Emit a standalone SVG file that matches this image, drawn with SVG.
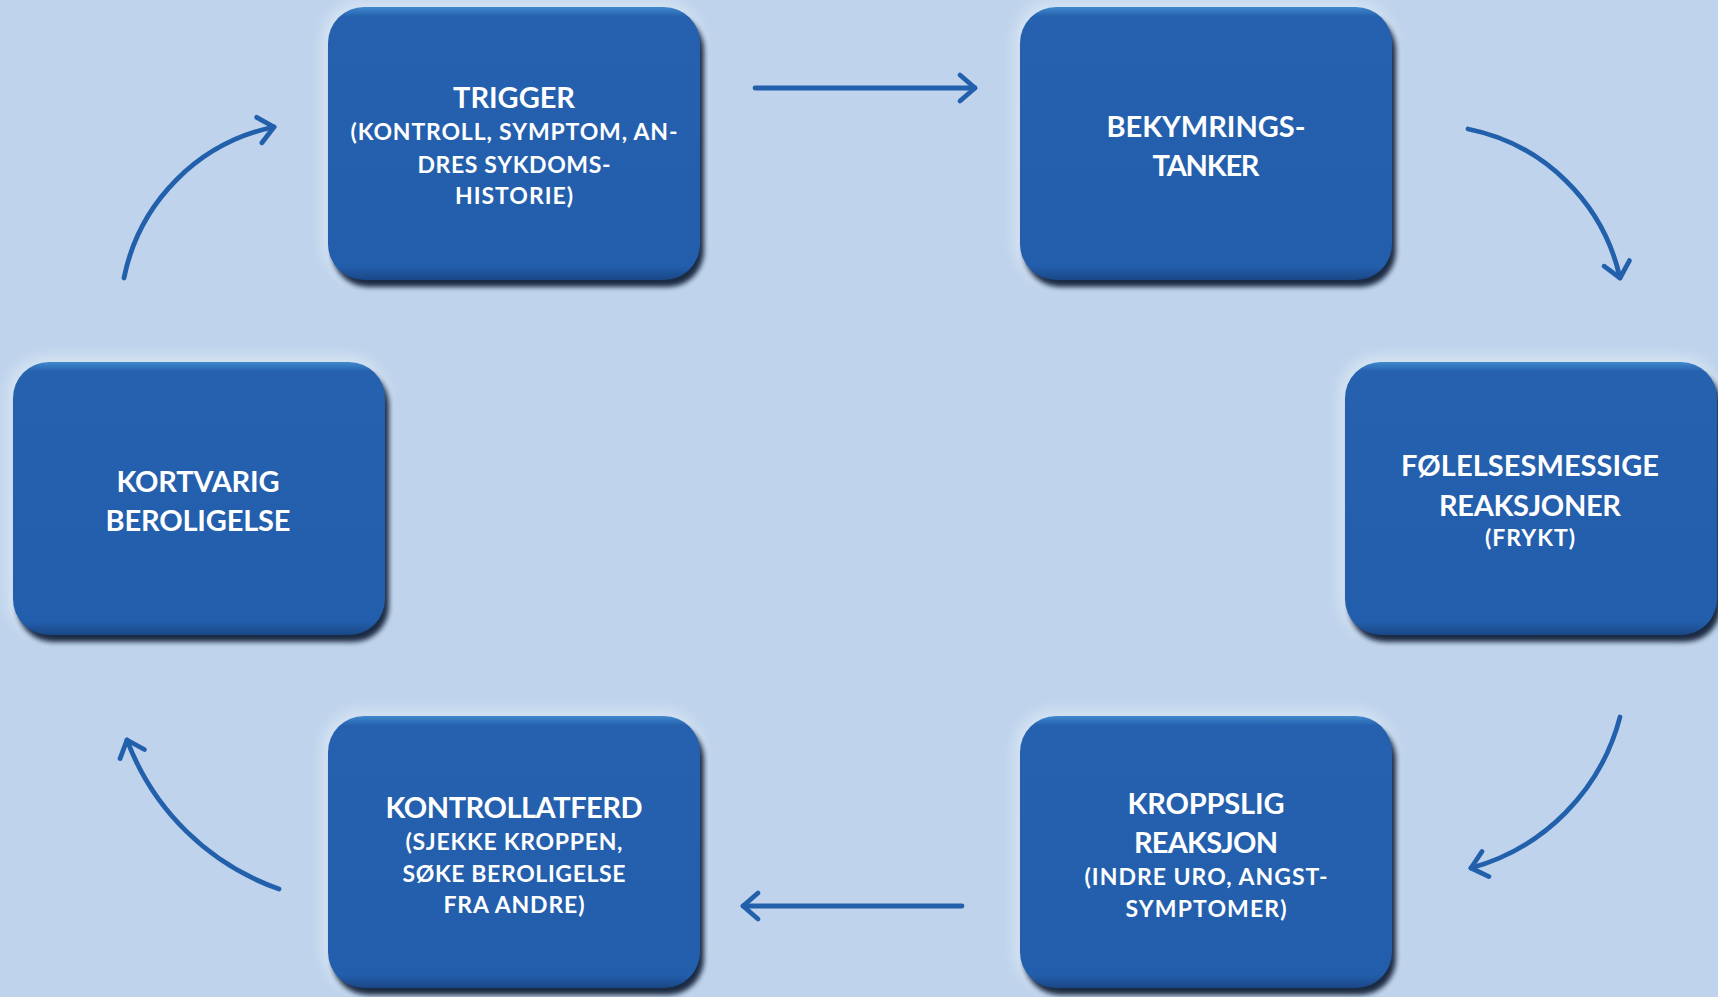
<svg xmlns="http://www.w3.org/2000/svg" width="1718" height="997" viewBox="0 0 1718 997">
<defs>
<style>
.bg{fill:#BFD4EC}
.box{fill:url(#boxGrad)}
.shadow{fill:#0A1A36;opacity:0.92;filter:url(#blur3)}
.halo{fill:#FFFFFF;opacity:0.35;filter:url(#blur6)}
.t{font-family:"Lato","Open Sans","Liberation Sans",sans-serif;font-weight:bold;fill:#FFFFFF;text-anchor:middle}
.h{font-size:29px}
.s{font-size:23px}
.conn{fill:none;stroke:#2360AC;stroke-width:4.8;stroke-linecap:round}
</style>
<linearGradient id="boxGrad" x1="0" y1="0" x2="0" y2="1">
<stop offset="0" stop-color="#4089CC"/>
<stop offset="0.035" stop-color="#2561AE"/>
<stop offset="0.95" stop-color="#235EAC"/>
<stop offset="1" stop-color="#1A4786"/>
</linearGradient>
<filter id="blur3" x="-10%" y="-10%" width="120%" height="120%"><feGaussianBlur stdDeviation="2.6"/></filter>
<filter id="blur6" x="-10%" y="-10%" width="120%" height="120%"><feGaussianBlur stdDeviation="6"/></filter>
<marker id="ah" viewBox="-22 -18 26 36" refX="0" refY="0" markerWidth="26" markerHeight="36" markerUnits="userSpaceOnUse" orient="auto" overflow="visible">
<path d="M-15,-13 L0,0 L-15,13" fill="none" stroke="#2360AC" stroke-width="4.8" stroke-linecap="round" stroke-linejoin="round"/>
</marker>
</defs>
<rect class="bg" x="0" y="0" width="1718" height="997"/>

<g id="connectors">
<path class="conn" d="M755,88 L975,88" marker-end="url(#ah)"/>
<path class="conn" d="M1468,129 A195,195 0 0 1 1620,278" marker-end="url(#ah)"/>
<path class="conn" d="M1620,717 A212,212 0 0 1 1471,868" marker-end="url(#ah)"/>
<path class="conn" d="M962,906 L743,906" marker-end="url(#ah)"/>
<path class="conn" d="M279,889 A251,251 0 0 1 127,740" marker-end="url(#ah)"/>
<path class="conn" d="M124,278 A193,193 0 0 1 274,127" marker-end="url(#ah)"/>
</g>

<g id="node-trigger">
<rect class="halo" x="322" y="1" width="380" height="281" rx="40"/>
<rect class="shadow" x="332" y="14" width="372" height="273" rx="36"/>
<rect class="box" x="328" y="7" width="372" height="273" rx="36"/>
<text class="t h" x="514" y="108" textLength="122" lengthAdjust="spacing">TRIGGER</text>
<text class="t s" x="514" y="140" textLength="327" lengthAdjust="spacing">(KONTROLL, SYMPTOM, AN-</text>
<text class="t s" x="514" y="173" textLength="193" lengthAdjust="spacing">DRES SYKDOMS-</text>
<text class="t s" x="514" y="204" textLength="118" lengthAdjust="spacing">HISTORIE)</text>
</g>

<g id="node-bekymringstanker">
<rect class="halo" x="1014" y="1" width="380" height="281" rx="40"/>
<rect class="shadow" x="1024" y="14" width="372" height="273" rx="36"/>
<rect class="box" x="1020" y="7" width="372" height="273" rx="36"/>
<text class="t h" x="1206" y="137" textLength="199" lengthAdjust="spacing">BEKYMRINGS-</text>
<text class="t h" x="1206" y="176" textLength="107" lengthAdjust="spacing">TANKER</text>
</g>

<g id="node-folelsesmessige">
<rect class="halo" x="1339" y="356" width="380" height="281" rx="40"/>
<rect class="shadow" x="1349" y="369" width="372" height="273" rx="36"/>
<rect class="box" x="1345" y="362" width="372" height="273" rx="36"/>
<text class="t h" x="1530" y="476" textLength="258" lengthAdjust="spacing">FØLELSESMESSIGE</text>
<text class="t h" x="1530" y="516" textLength="182" lengthAdjust="spacing">REAKSJONER</text>
<text class="t s" x="1530" y="546" textLength="90" lengthAdjust="spacing">(FRYKT)</text>
</g>

<g id="node-kroppslig">
<rect class="halo" x="1014" y="710" width="380" height="280" rx="40"/>
<rect class="shadow" x="1024" y="723" width="372" height="272" rx="36"/>
<rect class="box" x="1020" y="716" width="372" height="272" rx="36"/>
<text class="t h" x="1206" y="814" textLength="157" lengthAdjust="spacing">KROPPSLIG</text>
<text class="t h" x="1206" y="853" textLength="144" lengthAdjust="spacing">REAKSJON</text>
<text class="t s" x="1206" y="885" textLength="243" lengthAdjust="spacing">(INDRE URO, ANGST-</text>
<text class="t s" x="1206" y="917" textLength="161" lengthAdjust="spacing">SYMPTOMER)</text>
</g>

<g id="node-kontrollatferd">
<rect class="halo" x="322" y="710" width="380" height="280" rx="40"/>
<rect class="shadow" x="332" y="723" width="372" height="272" rx="36"/>
<rect class="box" x="328" y="716" width="372" height="272" rx="36"/>
<text class="t h" x="514" y="818" textLength="257" lengthAdjust="spacing">KONTROLLATFERD</text>
<text class="t s" x="514" y="850" textLength="217" lengthAdjust="spacing">(SJEKKE KROPPEN,</text>
<text class="t s" x="514" y="882" textLength="223" lengthAdjust="spacing">SØKE BEROLIGELSE</text>
<text class="t s" x="514" y="913" textLength="141" lengthAdjust="spacing">FRA ANDRE)</text>
</g>

<g id="node-kortvarig">
<rect class="halo" x="7" y="356" width="380" height="281" rx="40"/>
<rect class="shadow" x="17" y="369" width="372" height="273" rx="36"/>
<rect class="box" x="13" y="362" width="372" height="273" rx="36"/>
<text class="t h" x="198" y="492" textLength="163" lengthAdjust="spacing">KORTVARIG</text>
<text class="t h" x="198" y="531" textLength="185" lengthAdjust="spacing">BEROLIGELSE</text>
</g>
</svg>
